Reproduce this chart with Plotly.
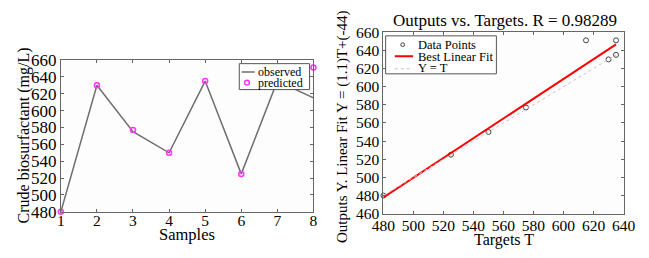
import numpy as np
import plotly.graph_objects as go

samples = [1, 2, 3, 4, 5, 6, 7, 8]
observed = [480, 630, 575, 550, 635, 525, 635, 615]
predicted = [480, 630, 577, 550, 635, 525, 651, 651]

left_yticks = [480, 500, 520, 540, 560, 580, 600, 620, 640, 660]
right_xticks = [480, 500, 520, 540, 560, 580, 600, 620, 640]
right_yticks = [460, 480, 500, 520, 540, 560, 580, 600, 620, 640, 660]

title_text = "Outputs vs. Targets. R = 0.98289"
right_ylabel = "Outputs Y. Linear Fit Y = (1.1)T+(-44)"
left_ylabel = "Crude biosurfactant (mg/L)"
left_xlabel = "Samples"
right_xlabel = "Targets T"
left_legend = ["observed", "predicted"]
right_legend = ["Data Points", "Best Linear Fit", "Y = T"]

slope, intercept = np.polyfit(observed, predicted, 1)
fit_x = [min(observed), max(observed)]
fit_y = [slope * v + intercept for v in fit_x]

FONT = "Liberation Serif"
W, H = 649, 258


def px(x):
    return x / W


def py(y):
    return 1 - y / H


LINE_GRAY = "#6e6e6e"
MAGENTA = "#ff33ff"
RED = "#ff0000"
DOT_GRAY = "#c4c4c4"
PT_COLOR = "#444444"
AXIS = "#666666"

fig = go.Figure()

# Left panel
fig.add_trace(go.Scatter(x=samples, y=observed, mode="lines", name=left_legend[0],
                         line=dict(color=LINE_GRAY, width=1.5), xaxis="x", yaxis="y",
                         cliponaxis=False, showlegend=False))
fig.add_trace(go.Scatter(x=samples, y=predicted, mode="markers", name=left_legend[1],
                         marker=dict(symbol="circle-open", color=MAGENTA, size=5, line=dict(width=1.5)),
                         xaxis="x", yaxis="y", cliponaxis=False, showlegend=False))

# Right panel
fig.add_trace(go.Scatter(x=observed, y=predicted, mode="markers", name=right_legend[0],
                         marker=dict(symbol="circle-open", color=PT_COLOR, size=5, line=dict(width=1)),
                         xaxis="x2", yaxis="y2", cliponaxis=False, showlegend=False))
fig.add_trace(go.Scatter(x=fit_x, y=fit_y, mode="lines", name=right_legend[1],
                         line=dict(color=RED, width=2), xaxis="x2", yaxis="y2", showlegend=False))
fig.add_trace(go.Scatter(x=fit_x, y=fit_x, mode="lines", name=right_legend[2],
                         line=dict(color=DOT_GRAY, width=1, dash="dot"), xaxis="x2", yaxis="y2",
                         showlegend=False))

axis_common = dict(showgrid=False, zeroline=False, showline=True, linecolor=AXIS, linewidth=1,
                   mirror="allticks", ticks="inside", ticklen=3, tickcolor=AXIS)

shapes = []
annotations = []


def legend_box(x0, y0, x1, y1):
    shapes.append(dict(type="rect", xref="paper", yref="paper", x0=px(x0), x1=px(x1),
                       y0=py(y1), y1=py(y0), fillcolor="white",
                       line=dict(color="#555555", width=1), layer="above"))


def legend_line(x0, x1, y, color, width, dash="solid"):
    shapes.append(dict(type="line", xref="paper", yref="paper", x0=px(x0), x1=px(x1),
                       y0=py(y), y1=py(y), line=dict(color=color, width=width, dash=dash),
                       layer="above"))


def legend_circle(cx, cy, r, color, width):
    shapes.append(dict(type="circle", xref="paper", yref="paper", x0=px(cx - r), x1=px(cx + r),
                       y0=py(cy + r), y1=py(cy - r), line=dict(color=color, width=width),
                       fillcolor="rgba(0,0,0,0)", layer="above"))


def legend_text(x, y, text, size=12.5):
    annotations.append(dict(text=text, x=px(x), y=py(y), xref="paper", yref="paper",
                            xanchor="left", yanchor="middle", showarrow=False, borderpad=0,
                            font=dict(size=size, family=FONT, color="black")))


# left legend
legend_box(236, 59, 309, 87)
legend_line(238.5, 252, 68, LINE_GRAY, 1.5)
legend_text(254, 67.5, left_legend[0], 12)
legend_circle(244, 79.5, 2.5, MAGENTA, 1.5)
legend_text(254, 79.5, left_legend[1], 12)

# right legend
legend_box(388, 29, 503, 70)
legend_circle(405.7, 38.5, 2, PT_COLOR, 1)
legend_text(421, 39, right_legend[0])
legend_line(397.5, 416.5, 51, RED, 2)
legend_text(421, 51.5, right_legend[1])
legend_line(397.5, 416.5, 64.5, DOT_GRAY, 1, "dot")
legend_text(421, 63.5, right_legend[2])

annotations += [
    dict(text=left_xlabel, x=px(182), y=py(243), xref="paper", yref="paper", xanchor="center",
         yanchor="middle", showarrow=False, borderpad=0, font=dict(size=16.5, family=FONT)),
    dict(text=left_ylabel, x=px(12), y=py(137), xref="paper", yref="paper",
         xanchor="center", yanchor="middle", textangle=-90, showarrow=False,
         font=dict(size=16, family=FONT)),
    dict(text=title_text, x=px(512), y=py(12), xref="paper", yref="paper",
         xanchor="center", yanchor="middle", showarrow=False, font=dict(size=17, family=FONT)),
    dict(text=right_xlabel, x=px(511), y=py(249.5), xref="paper", yref="paper", xanchor="center",
         yanchor="middle", showarrow=False, borderpad=0, font=dict(size=16, family=FONT)),
    dict(text=right_ylabel, x=px(343), y=py(127), xref="paper", yref="paper",
         xanchor="center", yanchor="middle", textangle=-90,
         showarrow=False, font=dict(size=15, family=FONT)),
]

fig.update_layout(
    width=W, height=H,
    margin=dict(l=0, r=0, t=0, b=0),
    paper_bgcolor="white",
    plot_bgcolor="#fdfdfd",
    font=dict(family=FONT, color="black"),
    showlegend=False,
    xaxis=dict(domain=[px(50.7), px(313)], range=[1, 8], tickvals=samples, anchor="y",
               tickfont=dict(size=15.5, family=FONT), ticklabelstandoff=-5, **axis_common),
    yaxis=dict(domain=[py(219), py(55)], range=[480, 660], tickvals=left_yticks, anchor="x",
               tickfont=dict(size=17, family=FONT), **axis_common),
    xaxis2=dict(domain=[px(385.7), px(635)], range=[480, 640], tickvals=right_xticks, anchor="y2",
                tickfont=dict(size=15.5, family=FONT), ticklabelstandoff=-2, **axis_common),
    yaxis2=dict(domain=[py(221), py(25)], range=[460, 660], tickvals=right_yticks, anchor="x2",
                tickfont=dict(size=15.5, family=FONT), **axis_common),
    shapes=shapes,
    annotations=annotations,
)

fig.write_html("out.html", config={"displayModeBar": False, "staticPlot": True},
               post_script="document.body.style.margin='0';document.body.style.overflow='hidden';")
